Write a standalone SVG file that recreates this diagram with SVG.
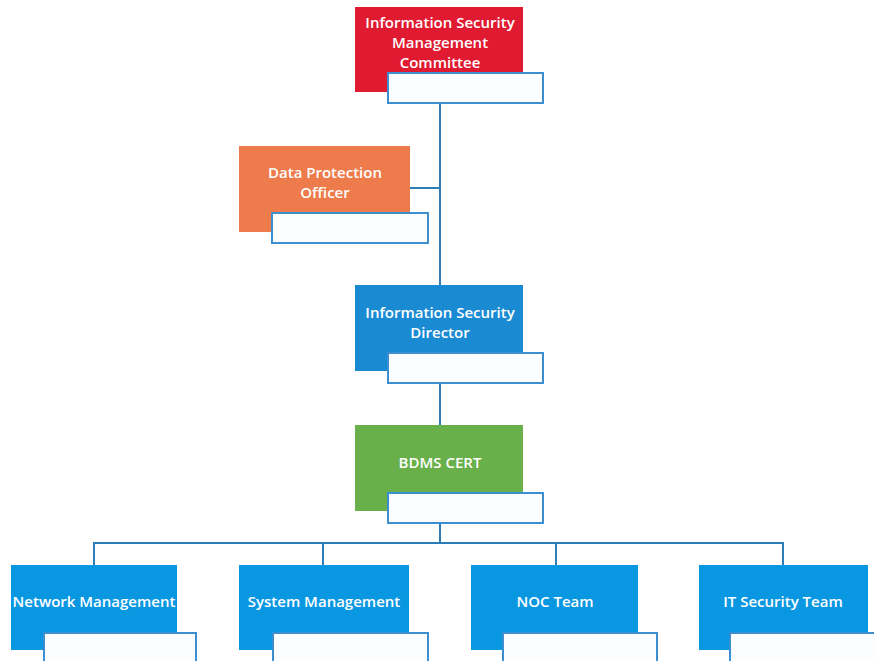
<svg xmlns="http://www.w3.org/2000/svg" width="874" height="661" viewBox="0 0 874 661">
<style>
.lbl{font-family:"Open Sans","Liberation Sans",Arial,sans-serif;font-size:15px;font-weight:600;fill:#ffffff;text-anchor:middle}
.sub{fill:#fbfdff;stroke:#3b8fd1;stroke-width:2}
.conn{fill:none;stroke:#2c7db8;stroke-width:2}
</style>
<rect width="874" height="661" fill="#ffffff"/>
<g id="connectors">
<path class="conn" d="M440 103 V286"/>
<path class="conn" d="M410 188 H440"/>
<path class="conn" d="M440 383 V425"/>
<path class="conn" d="M440 523 V543"/>
<path class="conn" d="M94 565 V543 H783 V565"/>
<path class="conn" d="M323 543 V565"/>
<path class="conn" d="M556 543 V565"/>
</g>
<g id="ismc">
<rect x="355" y="7" width="168" height="85" fill="#e01a30"/>
<text class="lbl" x="440" y="28">Information Security</text>
<text class="lbl" x="440" y="48">Management</text>
<text class="lbl" x="440" y="68">Committee</text>
<rect class="sub" x="388" y="73" width="155" height="30"/>
</g>
<g id="dpo">
<rect x="239" y="146" width="171" height="86" fill="#ed7b4b"/>
<text class="lbl" x="325" y="178">Data Protection</text>
<text class="lbl" x="325" y="198">Officer</text>
<rect class="sub" x="272" y="213" width="156" height="30"/>
</g>
<g id="director">
<rect x="355" y="285" width="168" height="86" fill="#1a8bd3"/>
<text class="lbl" x="440" y="318">Information Security</text>
<text class="lbl" x="440" y="338">Director</text>
<rect class="sub" x="388" y="353" width="155" height="30"/>
</g>
<g id="cert">
<rect x="355" y="425" width="168" height="86" fill="#69b04b"/>
<text class="lbl" x="440" y="468">BDMS CERT</text>
<rect class="sub" x="388" y="493" width="155" height="30"/>
</g>
<g id="network">
<rect x="11" y="565" width="166" height="85" fill="#0a97e2"/>
<text class="lbl" x="94" y="607">Network Management</text>
<rect class="sub" x="44" y="633" width="152" height="32"/>
</g>
<g id="system">
<rect x="239" y="565" width="170" height="85" fill="#0a97e2"/>
<text class="lbl" x="324" y="607">System Management</text>
<rect class="sub" x="273" y="633" width="155" height="32"/>
</g>
<g id="noc">
<rect x="471" y="565" width="167" height="85" fill="#0a97e2"/>
<text class="lbl" x="555" y="607">NOC Team</text>
<rect class="sub" x="503" y="633" width="154" height="32"/>
</g>
<g id="itsec">
<rect x="699" y="565" width="169" height="85" fill="#0a97e2"/>
<text class="lbl" x="783" y="607">IT Security Team</text>
<rect class="sub" x="730" y="633" width="150" height="32"/>
</g>
</svg>
